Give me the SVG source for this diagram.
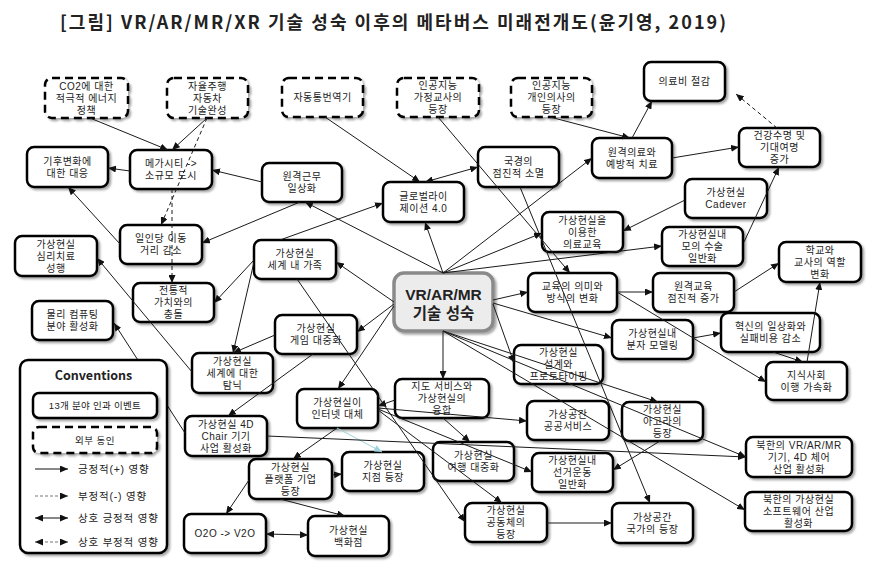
<svg xmlns="http://www.w3.org/2000/svg" width="879" height="572" viewBox="0 0 879 572">
<defs>
<filter id="sh" x="-10%" y="-10%" width="130%" height="140%"><feDropShadow dx="2" dy="2" stdDeviation="1.2" flood-color="#000" flood-opacity="0.35"/></filter>
<marker id="a" viewBox="0 0 8 7" refX="8" refY="3.5" markerWidth="8" markerHeight="7" orient="auto-start-reverse" markerUnits="userSpaceOnUse"><path d="M0,0L8,3.5L0,7z" fill="#111"/></marker>
<marker id="ab" viewBox="0 0 8 7" refX="8" refY="3.5" markerWidth="8" markerHeight="7" orient="auto-start-reverse" markerUnits="userSpaceOnUse"><path d="M0,0L8,3.5L0,7z" fill="#9cd3dc"/></marker>
<style>
.n rect{fill:#fff;stroke:#000;stroke-width:2.5;filter:url(#sh)}
.d rect{stroke-dasharray:8 5}
text{font-family:"Liberation Sans","Noto Sans CJK KR",sans-serif;fill:#222}
.n text{font-size:10px;letter-spacing:0.5px;text-anchor:middle}
#connectors line{stroke:#1a1a1a;stroke-width:1;fill:none;marker-end:url(#a)}
#connectors line.dbl{marker-start:url(#a)}
#connectors line.ds{stroke-dasharray:4 3}
#connectors line.lb{stroke:#9cd3dc;marker-end:url(#ab)}
.lg{font-size:10.5px;letter-spacing:0.8px}
.ttl{font-family:"Noto Sans CJK KR","Noto Sans",sans-serif}
</style>
</defs>
<rect width="879" height="572" fill="#fff"/>
<text class="ttl" x="60" y="29" font-size="18" font-weight="bold" textLength="666" lengthAdjust="spacing" fill="#111">[그림] VR/AR/MR/XR 기술 성숙 이후의 메타버스 미래전개도(윤기영, 2019)</text>

<g id="co2" class="n d"><rect x="45" y="78" width="83" height="40" rx="7"/><text><tspan x="86.5" y="89.6">CO2에 대한</tspan><tspan x="86.5" y="101.6">적극적 에너지</tspan><tspan x="86.5" y="113.6">정책</tspan></text></g>
<g id="auto" class="n d"><rect x="167" y="78" width="81" height="40" rx="7"/><text><tspan x="207.5" y="89.6">자율주행</tspan><tspan x="207.5" y="101.6">자동차</tspan><tspan x="207.5" y="113.6">기술완성</tspan></text></g>
<g id="trans" class="n d"><rect x="282" y="78" width="81" height="39" rx="7"/><text x="322.5" y="101.1">자동통번역기</text></g>
<g id="tutor" class="n d"><rect x="397" y="78" width="82" height="39" rx="7"/><text><tspan x="438" y="89.1">인공지능</tspan><tspan x="438" y="101.1">가정교사의</tspan><tspan x="438" y="113.1">등장</tspan></text></g>
<g id="doctor" class="n d"><rect x="511" y="78" width="81" height="39" rx="7"/><text><tspan x="551.5" y="89.1">인공지능</tspan><tspan x="551.5" y="101.1">개인의사의</tspan><tspan x="551.5" y="113.1">등장</tspan></text></g>
<g id="climate" class="n"><rect x="27" y="147" width="81" height="40" rx="7"/><text><tspan x="67.5" y="164.6">기후변화에</tspan><tspan x="67.5" y="176.6">대한 대응</tspan></text></g>
<g id="mega" class="n"><rect x="130" y="150" width="82" height="39" rx="7"/><text><tspan x="171" y="167.1">메가시티 -&gt;</tspan><tspan x="171" y="179.1">소규모 도시</tspan></text></g>
<g id="remote" class="n"><rect x="262" y="163" width="80" height="39" rx="7"/><text><tspan x="302" y="180.1">원격근무</tspan><tspan x="302" y="192.1">일상화</tspan></text></g>
<g id="border" class="n"><rect x="478" y="147" width="81" height="40" rx="7"/><text><tspan x="518.5" y="164.6">국경의</tspan><tspan x="518.5" y="176.6">점진적 소멸</tspan></text></g>
<g id="global" class="n"><rect x="383" y="182" width="81" height="40" rx="7"/><text><tspan x="423.5" y="199.6">글로벌라이</tspan><tspan x="423.5" y="211.6">제이션 4.0</tspan></text></g>
<g id="medcost" class="n"><rect x="644" y="62" width="81" height="39" rx="7"/><text x="684.5" y="85.1">의료비 절감</text></g>
<g id="telemed" class="n"><rect x="592" y="138" width="80" height="40" rx="7"/><text><tspan x="632" y="155.6">원격의료와</tspan><tspan x="632" y="167.6">예방적 치료</tspan></text></g>
<g id="health" class="n"><rect x="739" y="128" width="81" height="39" rx="7"/><text><tspan x="779.5" y="139.1">건강수명 및</tspan><tspan x="779.5" y="151.1">기대여명</tspan><tspan x="779.5" y="163.1">증가</tspan></text></g>
<g id="cadever" class="n"><rect x="685" y="179" width="82" height="39" rx="7"/><text><tspan x="726" y="196.1">가상현실</tspan><tspan x="726" y="208.1">Cadever</tspan></text></g>
<g id="mededu" class="n"><rect x="542" y="212" width="81" height="40" rx="7"/><text><tspan x="582.5" y="223.6">가상현실을</tspan><tspan x="582.5" y="235.6">이용한</tspan><tspan x="582.5" y="247.6">의료교육</tspan></text></g>
<g id="surgery" class="n"><rect x="662" y="227" width="81" height="39" rx="7"/><text><tspan x="702.5" y="238.1">가상현실내</tspan><tspan x="702.5" y="250.1">모의 수술</tspan><tspan x="702.5" y="262.1">일반화</tspan></text></g>
<g id="edu" class="n"><rect x="528" y="273" width="89" height="39" rx="7"/><text><tspan x="572.5" y="290.1">교육의 의미와</tspan><tspan x="572.5" y="302.1">방식의 변화</tspan></text></g>
<g id="remoteedu" class="n"><rect x="653" y="273" width="81" height="39" rx="7"/><text><tspan x="693.5" y="290.1">원격교육</tspan><tspan x="693.5" y="302.1">점진적 증가</tspan></text></g>
<g id="school" class="n"><rect x="779" y="242" width="82" height="40" rx="7"/><text><tspan x="820" y="253.6">학교와</tspan><tspan x="820" y="265.6">교사의 역할</tspan><tspan x="820" y="277.6">변화</tspan></text></g>
<g id="molecule" class="n"><rect x="612" y="320" width="81" height="39" rx="7"/><text><tspan x="652.5" y="337.1">가상현실내</tspan><tspan x="652.5" y="349.1">분자 모델링</tspan></text></g>
<g id="innov" class="n"><rect x="721" y="313" width="99" height="39" rx="7"/><text><tspan x="770.5" y="330.1">혁신의 일상화와</tspan><tspan x="770.5" y="342.1">실패비용 감소</tspan></text></g>
<g id="knowledge" class="n"><rect x="766" y="362" width="81" height="38" rx="7"/><text><tspan x="806.5" y="378.6">지식사회</tspan><tspan x="806.5" y="390.6">이행 가속화</tspan></text></g>
<g id="design" class="n"><rect x="514" y="345" width="89" height="39" rx="7"/><text><tspan x="558.5" y="356.1">가상현실</tspan><tspan x="558.5" y="368.1">설계와</tspan><tspan x="558.5" y="380.1">프로토타이핑</tspan></text></g>
<g id="map" class="n"><rect x="395" y="379" width="94" height="39" rx="7"/><text><tspan x="442" y="390.1">지도 서비스와</tspan><tspan x="442" y="402.1">가상현실의</tspan><tspan x="442" y="414.1">융합</tspan></text></g>
<g id="public" class="n"><rect x="527" y="401" width="82" height="39" rx="7"/><text><tspan x="568" y="418.1">가상공간</tspan><tspan x="568" y="430.1">공공서비스</tspan></text></g>
<g id="agora" class="n"><rect x="622" y="402" width="81" height="39" rx="7"/><text><tspan x="662.5" y="413.1">가상현실</tspan><tspan x="662.5" y="425.1">아고라의</tspan><tspan x="662.5" y="437.1">등장</tspan></text></g>
<g id="travel" class="n"><rect x="433" y="442" width="81" height="39" rx="7"/><text><tspan x="473.5" y="459.1">가상현실</tspan><tspan x="473.5" y="471.1">여행 대중화</tspan></text></g>
<g id="election" class="n"><rect x="532" y="453" width="81" height="39" rx="7"/><text><tspan x="572.5" y="464.1">가상현실내</tspan><tspan x="572.5" y="476.1">선거운동</tspan><tspan x="572.5" y="488.1">일반화</tspan></text></g>
<g id="nkhw" class="n"><rect x="746" y="437" width="106" height="40" rx="7"/><text><tspan x="799" y="448.6">북한의 VR/AR/MR</tspan><tspan x="799" y="460.6">기기, 4D 체어</tspan><tspan x="799" y="472.6">산업 활성화</tspan></text></g>
<g id="nksw" class="n"><rect x="745" y="492" width="107" height="39" rx="7"/><text><tspan x="798.5" y="503.1">북한의 가상현실</tspan><tspan x="798.5" y="515.1">소프트웨어 산업</tspan><tspan x="798.5" y="527.1">활성화</tspan></text></g>
<g id="vstate" class="n"><rect x="612" y="503" width="81" height="40" rx="7"/><text><tspan x="652.5" y="520.6">가상공간</tspan><tspan x="652.5" y="532.6">국가의 등장</tspan></text></g>
<g id="community" class="n"><rect x="465" y="503" width="82" height="39" rx="7"/><text><tspan x="506" y="514.1">가상현실</tspan><tspan x="506" y="526.1">공동체의</tspan><tspan x="506" y="538.1">등장</tspan></text></g>
<g id="internet" class="n"><rect x="297" y="389" width="81" height="39" rx="7"/><text><tspan x="337.5" y="406.1">가상현실이</tspan><tspan x="337.5" y="418.1">인터넷 대체</tspan></text></g>
<g id="branch" class="n"><rect x="342" y="452" width="82" height="39" rx="7"/><text><tspan x="383" y="469.1">가상현실</tspan><tspan x="383" y="481.1">지점 등장</tspan></text></g>
<g id="platform" class="n"><rect x="249" y="459" width="83" height="40" rx="7"/><text><tspan x="290.5" y="470.6">가상현실</tspan><tspan x="290.5" y="482.6">플랫폼 기업</tspan><tspan x="290.5" y="494.6">등장</tspan></text></g>
<g id="dept" class="n"><rect x="308" y="516" width="81" height="40" rx="7"/><text><tspan x="348.5" y="533.6">가상현실</tspan><tspan x="348.5" y="545.6">백화점</tspan></text></g>
<g id="o2o" class="n"><rect x="184" y="514" width="82" height="39" rx="7"/><text x="225" y="537.1">O2O -&gt; V2O</text></g>
<g id="chair" class="n"><rect x="185" y="416" width="82" height="40" rx="7"/><text><tspan x="226" y="427.6">가상현실 4D</tspan><tspan x="226" y="439.6">Chair 기기</tspan><tspan x="226" y="451.6">사업 활성화</tspan></text></g>
<g id="addict" class="n"><rect x="192" y="353" width="81" height="40" rx="7"/><text><tspan x="232.5" y="364.6">가상현실</tspan><tspan x="232.5" y="376.6">세계에 대한</tspan><tspan x="232.5" y="388.6">탐닉</tspan></text></g>
<g id="game" class="n"><rect x="275" y="315" width="82" height="39" rx="7"/><text><tspan x="316" y="332.1">가상현실</tspan><tspan x="316" y="344.1">게임 대중화</tspan></text></g>
<g id="family" class="n"><rect x="254" y="240" width="82" height="39" rx="7"/><text><tspan x="295" y="257.1">가상현실</tspan><tspan x="295" y="269.1">세계 내 가족</tspan></text></g>
<g id="tradition" class="n"><rect x="133" y="283" width="81" height="39" rx="7"/><text><tspan x="173.5" y="294.1">전통적</tspan><tspan x="173.5" y="306.1">가치와의</tspan><tspan x="173.5" y="318.1">충돌</tspan></text></g>
<g id="oneperson" class="n"><rect x="120" y="225" width="82" height="39" rx="7"/><text><tspan x="161" y="242.1">일인당 이동</tspan><tspan x="161" y="254.1">거리 감소</tspan></text></g>
<g id="psych" class="n"><rect x="15" y="236" width="82" height="40" rx="7"/><text><tspan x="56" y="247.6">가상현실</tspan><tspan x="56" y="259.6">심리치료</tspan><tspan x="56" y="271.6">성행</tspan></text></g>
<g id="physical" class="n"><rect x="32" y="301" width="81" height="39" rx="7"/><text><tspan x="72.5" y="318.1">물리 컴퓨팅</tspan><tspan x="72.5" y="330.1">분야 활성화</tspan></text></g>
<g id="vr">
<rect x="394" y="273" width="99" height="58" rx="10" fill="#ececec" stroke="#8a8a8a" stroke-width="3.5" filter="url(#sh)"/>
<text font-weight="bold" text-anchor="middle"><tspan x="443.5" y="299.5" font-size="15.5">VR/AR/MR</tspan><tspan x="443.5" y="319" font-size="15.5">기술 성숙</tspan></text>
</g>

<g id="connectors">
<line x1="90" y1="118" x2="168" y2="150"/>
<line x1="207" y1="118" x2="172" y2="150"/>
<line x1="130" y1="171" x2="108" y2="168"/>
<line x1="262" y1="182" x2="212" y2="170"/>
<line x1="300" y1="202" x2="202" y2="243"/>
<line x1="120" y1="244" x2="68" y2="187"/>
<line x1="325" y1="117" x2="420" y2="182"/>
<line class="dbl" x1="425" y1="182" x2="478" y2="167"/>
<line x1="438" y1="117" x2="570" y2="273"/>
<line x1="550" y1="117" x2="630" y2="138"/>
<line x1="632" y1="138" x2="652" y2="101"/>
<line x1="672" y1="158" x2="739" y2="147"/>
<line class="ds" x1="777" y1="128" x2="736" y2="94"/>
<line x1="685" y1="200" x2="623" y2="231"/>
<line x1="744" y1="242" x2="779" y2="167"/>
<line x1="520" y1="187" x2="650" y2="503"/>
<line x1="443" y1="273" x2="305" y2="202"/>
<line x1="443" y1="273" x2="425" y2="222"/>
<line x1="443" y1="273" x2="592" y2="158"/>
<line x1="443" y1="273" x2="542" y2="233"/>
<line x1="443" y1="273" x2="662" y2="246"/>
<line x1="280" y1="240" x2="383" y2="203"/>
<line x1="394" y1="302" x2="336" y2="262"/>
<line x1="394" y1="304" x2="357" y2="332"/>
<line x1="394" y1="306" x2="338" y2="389"/>
<line x1="493" y1="300" x2="528" y2="292"/>
<line x1="493" y1="303" x2="612" y2="338"/>
<line x1="493" y1="304" x2="514" y2="363"/>
<line x1="443" y1="331" x2="443" y2="379"/>
<line x1="443" y1="331" x2="658" y2="402"/>
<line x1="443" y1="331" x2="746" y2="457"/>
<line x1="443" y1="331" x2="745" y2="510"/>
<line x1="617" y1="292" x2="653" y2="292"/>
<line x1="617" y1="292" x2="766" y2="382"/>
<line x1="734" y1="292" x2="779" y2="263"/>
<line x1="693" y1="338" x2="721" y2="333"/>
<line x1="773" y1="352" x2="803" y2="362"/>
<line x1="807" y1="362" x2="820" y2="282"/>
<line x1="395" y1="400" x2="378" y2="406"/>
<line x1="443" y1="418" x2="470" y2="442"/>
<line x1="378" y1="408" x2="527" y2="421"/>
<line x1="378" y1="409" x2="532" y2="472"/>
<line x1="378" y1="410" x2="502" y2="503"/>
<line x1="297" y1="279" x2="465" y2="522"/>
<line x1="337" y1="428" x2="293" y2="459"/>
<line class="lb" x1="337" y1="428" x2="382" y2="452"/>
<line x1="332" y1="475" x2="342" y2="474"/>
<line x1="280" y1="499" x2="345" y2="516"/>
<line class="dbl" x1="266" y1="534" x2="308" y2="535"/>
<line x1="249" y1="480" x2="226" y2="514"/>
<line x1="313" y1="354" x2="228" y2="416"/>
<line x1="275" y1="335" x2="233" y2="353"/>
<line x1="254" y1="262" x2="233" y2="353"/>
<line x1="254" y1="260" x2="214" y2="303"/>
<line x1="192" y1="372" x2="97" y2="258"/>
<line x1="185" y1="433" x2="114" y2="323"/>
<line x1="267" y1="436" x2="746" y2="457"/>
<line x1="660" y1="441" x2="613" y2="470"/>
<line x1="547" y1="523" x2="612" y2="523"/>
<line class="ds" x1="207" y1="118" x2="161" y2="225"/>
<line class="ds" x1="172" y1="189" x2="172" y2="283"/>
</g>

<g id="conventions">
<rect x="20" y="360" width="147" height="193" rx="8" fill="#fff" stroke="#000" stroke-width="2.5" filter="url(#sh)"/>
<text class="ttl" x="93.5" y="380" font-size="12.5" font-weight="bold" text-anchor="middle">Conventions</text>
<g class="n"><rect x="33" y="393" width="124" height="25" rx="6"/><text x="95" y="409" style="font-size:9.5px;letter-spacing:0.3px">13개 분야 인과 이벤트</text></g>
<g class="n d"><rect x="33" y="427" width="124" height="26" rx="6"/><text x="95" y="443.5" style="font-size:9.5px">외부 동인</text></g>
<line x1="35" y1="469" x2="68" y2="469" stroke="#111" stroke-width="1" marker-end="url(#a)"/>
<line x1="35" y1="496" x2="68" y2="496" stroke="#777" stroke-width="1" stroke-dasharray="3 2" marker-end="url(#a)"/>
<line x1="35" y1="518" x2="68" y2="518" stroke="#111" stroke-width="1" marker-start="url(#a)" marker-end="url(#a)"/>
<line x1="35" y1="542" x2="68" y2="542" stroke="#777" stroke-width="1" stroke-dasharray="3 2" marker-start="url(#a)" marker-end="url(#a)"/>
<text class="lg" x="78" y="473">긍정적(+) 영향</text>
<text class="lg" x="78" y="500">부정적(-) 영향</text>
<text class="lg" x="78" y="522">상호 긍정적 영향</text>
<text class="lg" x="78" y="546">상호 부정적 영향</text>
</g>
</svg>
